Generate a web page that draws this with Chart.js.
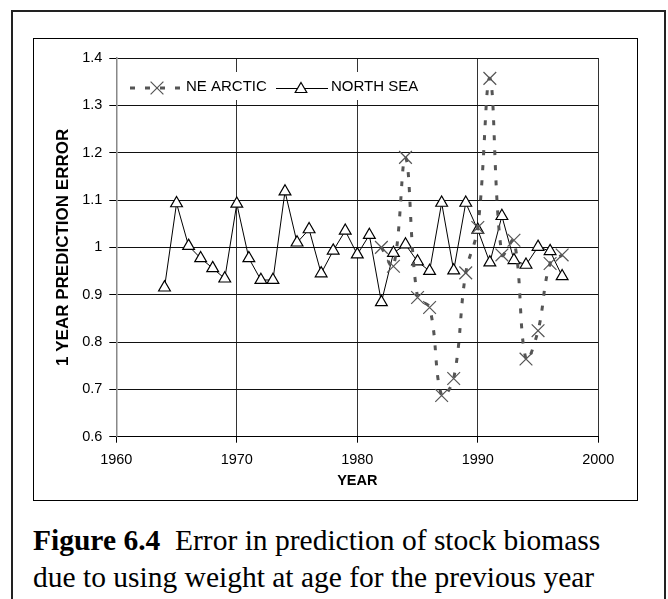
<!DOCTYPE html>
<html>
<head>
<meta charset="utf-8">
<script src="https://cdn.jsdelivr.net/npm/chart.js@4.4.0/dist/chart.umd.min.js"></script>
<style>
  body { margin: 0; background: #fff; }
  #outer { position: absolute; left: 11px; top: 10px; width: 651px; height: 620px; border: 2px solid #222; border-bottom: none; }
  #inner { position: absolute; left: 33px; top: 38px; width: 603px; height: 461px; border: 1px solid #000; }
  #chartCanvas { position: absolute; left: 0; top: 0; z-index: 2; }
  #caption { position: absolute; left: 33px; top: 522px; font-family: "Liberation Serif", "Times New Roman", serif; font-size: 29.5px; line-height: 37px; color: #000; white-space: nowrap; }
</style>
</head>
<body>
<div id="outer"></div>
<div id="inner"></div>
<canvas id="chartCanvas" width="668" height="599"></canvas>
<div id="caption"><b>Figure 6.4</b>&nbsp; Error in prediction of stock biomass<br>due to using weight at age for the previous year</div>
<script>
// values
const NORTH_SEA_YEARS = [1964, 1965, 1966, 1967, 1968, 1969, 1970, 1971, 1972, 1973,
  1974, 1975, 1976, 1977, 1978, 1979, 1980, 1981, 1982, 1983,
  1984, 1985, 1986, 1987, 1988, 1989, 1990, 1991, 1992, 1993,
  1994, 1995, 1996, 1997];
const NORTH_SEA = [0.915, 1.093, 1.003, 0.977, 0.956, 0.934, 1.092, 0.977, 0.931, 0.931,
  1.118, 1.010, 1.038, 0.945, 0.993, 1.035, 0.985, 1.026, 0.884, 0.988,
  1.006, 0.970, 0.950, 1.094, 0.951, 1.094, 1.037, 0.968, 1.066, 0.973,
  0.963, 1.001, 0.992, 0.939];

const NE_ARCTIC_YEARS = [1982, 1983, 1984, 1985, 1986, 1987, 1988, 1989,
  1990, 1991, 1992, 1993, 1994, 1995, 1996, 1997];
const NE_ARCTIC = [1.000, 0.960, 1.190, 0.894, 0.873, 0.687, 0.723, 0.946,
  1.042, 1.357, 0.984, 1.015, 0.764, 0.824, 0.966, 0.984];

const X_TICKS = [1960, 1970, 1980, 1990, 2000];
const X_TICK_LABELS = ["1960", "1970", "1980", "1990", "2000"];
const Y_TICKS = [0.6, 0.7, 0.8, 0.9, 1.0, 1.1, 1.2, 1.3, 1.4];
const Y_TICK_LABELS = ["0.6", "0.7", "0.8", "0.9", "1", "1.1", "1.2", "1.3", "1.4"];

const SERIES_NAMES = ["NE ARCTIC", "NORTH SEA"];
const ARCTIC_GREY = "#555";

function toPoints(years, values) {
  return years.map((yr, i) => ({ x: yr, y: values[i] }));
}

function tickLabel(ticks, labels, value) {
  const idx = ticks.findIndex((t) => Math.abs(t - value) < 1e-6);
  return idx >= 0 ? labels[idx] : "";
}

// legend sits inside the plot, on a white patch, like the original
const insideLegend = {
  id: "insideLegend",
  afterDraw(chart) {
    const ctx = chart.ctx;
    const area = chart.chartArea;
    const cy = 87;
    ctx.save();
    ctx.fillStyle = "#fff";
    ctx.fillRect(area.left + 6, 72, 310, 28);

    // NE ARCTIC sample
    ctx.strokeStyle = ARCTIC_GREY;
    ctx.lineWidth = 3;
    ctx.setLineDash([5, 10]);
    ctx.beginPath();
    ctx.moveTo(130, cy + 1);
    ctx.lineTo(181, cy + 1);
    ctx.stroke();
    ctx.setLineDash([]);
    ctx.lineWidth = 1.2;
    const r = 6.4;
    ctx.beginPath();
    ctx.moveTo(157 - r, cy + 1 - r);
    ctx.lineTo(157 + r, cy + 1 + r);
    ctx.moveTo(157 + r, cy + 1 - r);
    ctx.lineTo(157 - r, cy + 1 + r);
    ctx.stroke();

    ctx.font = '15px "Liberation Sans", Arial, sans-serif';
    ctx.fillStyle = "#000";
    ctx.textBaseline = "middle";
    ctx.textAlign = "left";
    ctx.fillText(SERIES_NAMES[0], 186, cy);

    // NORTH SEA sample
    ctx.strokeStyle = "#000";
    ctx.lineWidth = 1;
    ctx.beginPath();
    ctx.moveTo(276, cy + 1.5);
    ctx.lineTo(328, cy + 1.5);
    ctx.stroke();
    ctx.lineWidth = 1.2;
    ctx.fillStyle = "#fff";
    ctx.beginPath();
    ctx.moveTo(301, cy - 4.5);
    ctx.lineTo(306.8, cy + 5.5);
    ctx.lineTo(295.2, cy + 5.5);
    ctx.closePath();
    ctx.fill();
    ctx.stroke();
    ctx.fillStyle = "#000";
    ctx.fillText(SERIES_NAMES[1], 331, cy);
    ctx.restore();
  },
};

Chart.defaults.font.family = '"Liberation Sans", Arial, sans-serif';
Chart.defaults.color = "#000";

const ctx = document.getElementById("chartCanvas").getContext("2d");
const chart = new Chart(ctx, {
  type: "line",
  data: {
    datasets: [
      {
        label: SERIES_NAMES[0],
        data: toPoints(NE_ARCTIC_YEARS, NE_ARCTIC),
        borderColor: ARCTIC_GREY,
        borderWidth: 3,
        borderDash: [5, 10],
        tension: 0.38,
        fill: false,
        pointStyle: "crossRot",
        pointRadius: 9,
        pointBorderWidth: 1.2,
        pointBorderColor: ARCTIC_GREY,
        pointBackgroundColor: ARCTIC_GREY,
      },
      {
        label: SERIES_NAMES[1],
        data: toPoints(NORTH_SEA_YEARS, NORTH_SEA),
        borderColor: "#000",
        borderWidth: 1,
        tension: 0,
        fill: false,
        pointStyle: "triangle",
        pointRadius: 6.8,
        pointBorderWidth: 1.2,
        pointBorderColor: "#000",
        pointBackgroundColor: "#fff",
      },
    ],
  },
  options: {
    responsive: false,
    animation: false,
    events: [],
    layout: { padding: { left: 0, top: 58, right: 69.7, bottom: 99 } },
    plugins: {
      legend: { display: false },
      tooltip: { enabled: false },
    },
    scales: {
      x: {
        type: "linear",
        min: 1960,
        max: 2000,
        afterBuildTicks: (scale) => {
          scale.ticks = X_TICKS.map((v) => ({ value: v }));
        },
        afterFit: (scale) => {
          scale.height = 63.3;
        },
        ticks: {
          padding: 9,
          font: { size: 14.5 },
          color: "#000",
          maxRotation: 0,
          callback: (v) => tickLabel(X_TICKS, X_TICK_LABELS, v),
        },
        grid: { color: "#333", lineWidth: 1, tickLength: 6, tickColor: "#000" },
        border: { color: "#000", width: 1 },
        title: {
          display: true,
          text: "YEAR",
          font: { size: 14.5, weight: "bold" },
          padding: { top: 0, bottom: 10 },
        },
      },
      y: {
        type: "linear",
        min: 0.6,
        max: 1.4,
        afterBuildTicks: (scale) => {
          scale.ticks = Y_TICKS.map((v) => ({ value: v }));
        },
        afterFit: (scale) => {
          scale.width = 116.3;
        },
        ticks: {
          padding: 7,
          font: { size: 14.5 },
          color: "#000",
          callback: (v) => tickLabel(Y_TICKS, Y_TICK_LABELS, v),
        },
        grid: { color: "#111", lineWidth: 1, tickLength: 7, tickColor: "#000" },
        border: { color: "#888", width: 1.5 },
        title: {
          display: true,
          text: "1 YEAR PREDICTION ERROR",
          font: { size: 17, weight: "bold" },
          padding: { top: 53, bottom: 0 },
        },
      },
    },
  },
  plugins: [insideLegend],
});
</script>
</body>
</html>
